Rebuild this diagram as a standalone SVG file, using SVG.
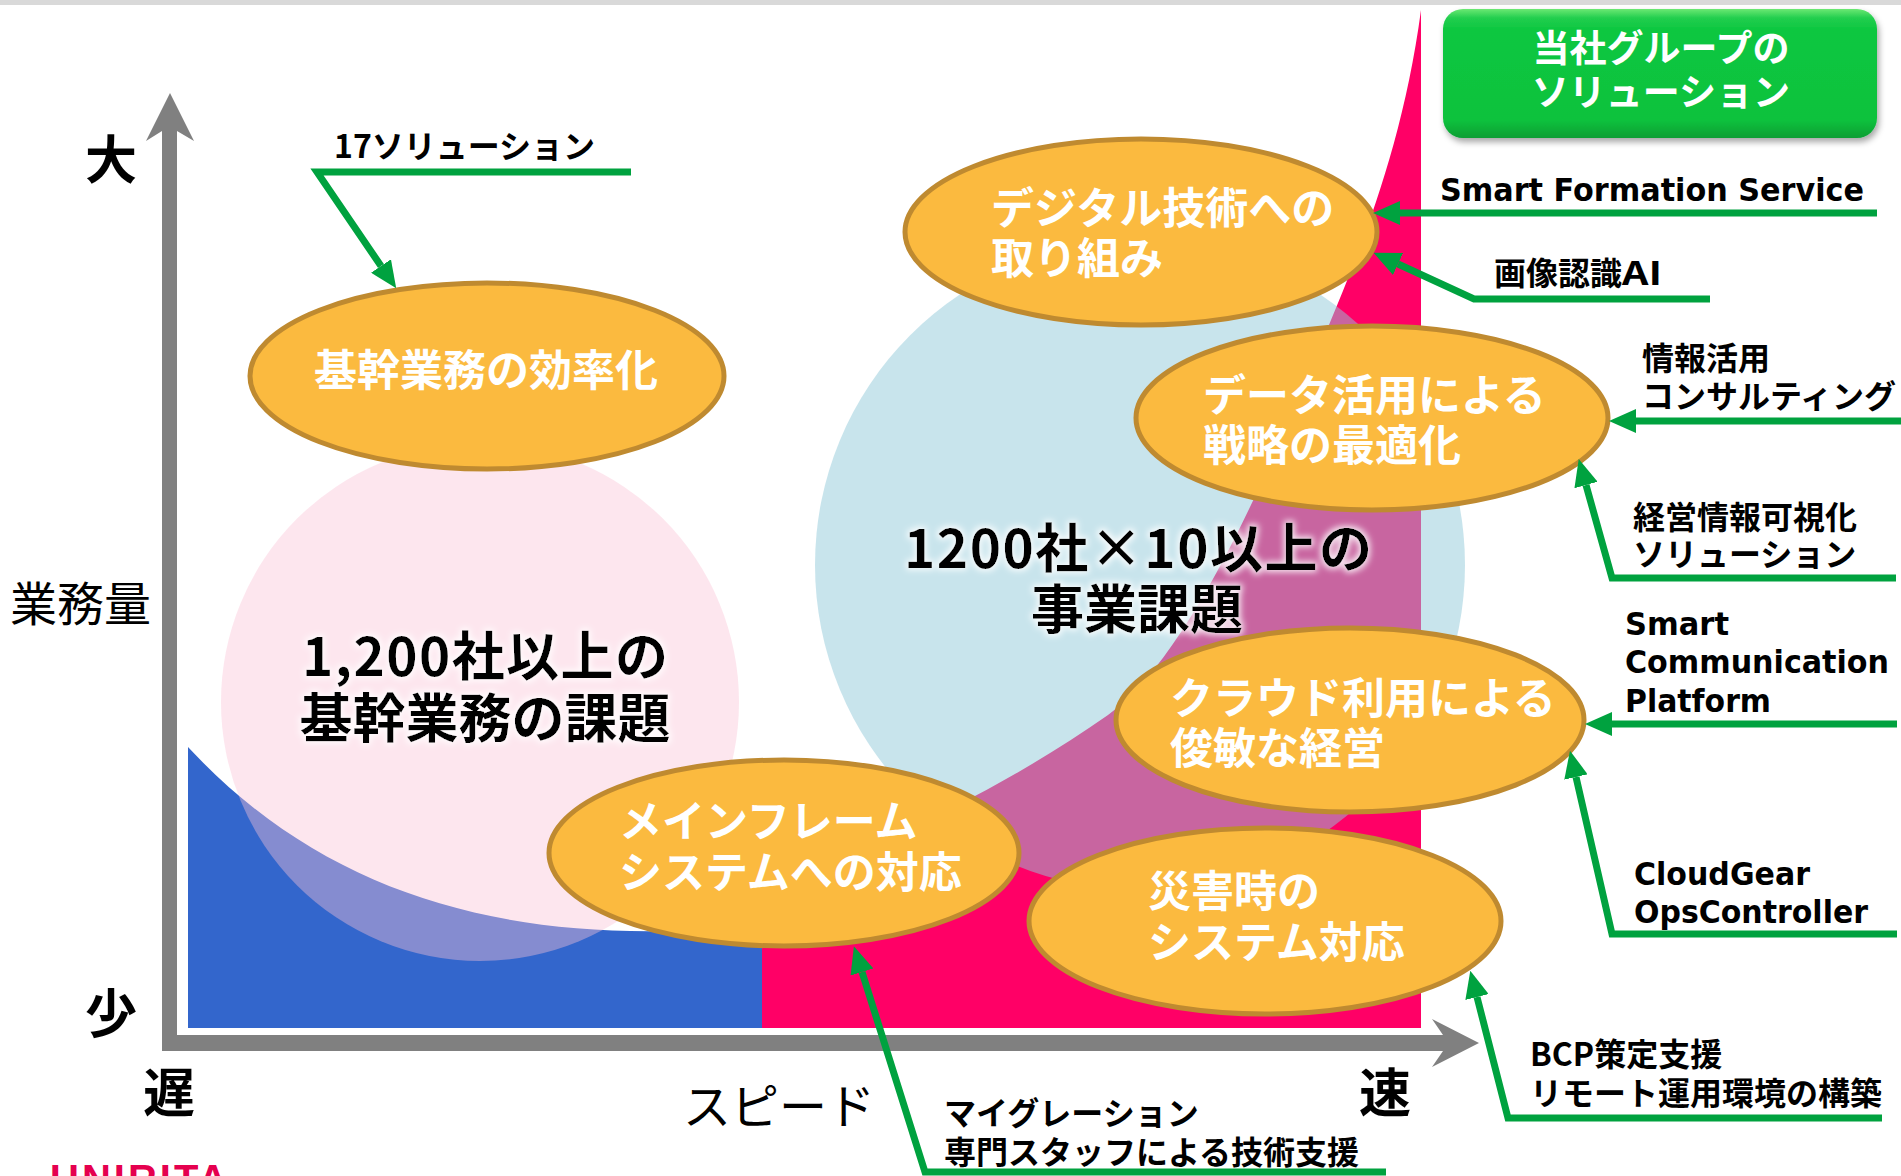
<svg xmlns="http://www.w3.org/2000/svg" width="1901" height="1176" viewBox="0 0 1901 1176">
<defs>
<style>
.et{font-family:"Noto Sans CJK JP",sans-serif;font-weight:700;font-size:43px;fill:#fff}
.big{font-family:"Noto Sans CJK JP",sans-serif;font-weight:700;font-size:53px;fill:#000;text-anchor:middle}
.ax{font-family:"Noto Sans CJK JP",sans-serif;font-weight:700;font-size:52px;fill:#000}
.axr{font-family:"Noto Sans CJK JP",sans-serif;font-weight:400;font-size:47px;fill:#000}
.lb{font-family:"Noto Sans CJK JP",sans-serif;font-weight:700;font-size:32px;fill:#000}
.ll{font-family:"DejaVu Sans","Liberation Sans",sans-serif;font-weight:700;font-size:32px;fill:#000}
.gb{font-family:"Noto Sans CJK JP",sans-serif;font-weight:700;font-size:37px;fill:#fff;text-anchor:middle}
.node{fill:#FBBA3F;stroke:#BF8A30;stroke-width:5}
.conn{fill:none;stroke:#00A23F;stroke-width:7;stroke-linejoin:miter;marker-end:url(#ah)}
</style>
<marker id="ah" markerUnits="userSpaceOnUse" markerWidth="27" markerHeight="24" viewBox="0 0 27 24" refX="0" refY="12" orient="auto">
<path d="M0,0 L27,12 L0,24 z" fill="#00A23F"/>
</marker>
<linearGradient id="gg" x1="0" y1="0" x2="0" y2="1">
<stop offset="0" stop-color="#6BE873"/>
<stop offset="0.07" stop-color="#22CE4E"/>
<stop offset="0.16" stop-color="#0CC740"/>
<stop offset="0.86" stop-color="#0AC23D"/>
<stop offset="1" stop-color="#079E33"/>
</linearGradient>
<filter id="sh" x="-5%" y="-10%" width="112%" height="130%">
<feDropShadow dx="2" dy="4" stdDeviation="3" flood-color="#000" flood-opacity="0.35"/>
</filter>
<filter id="glow" x="-10%" y="-40%" width="120%" height="180%">
<feMorphology in="SourceAlpha" operator="dilate" radius="2" result="d"/>
<feGaussianBlur in="d" stdDeviation="3" result="b"/>
<feFlood flood-color="#ffffff" flood-opacity="0.85"/>
<feComposite in2="b" operator="in" result="g"/>
<feMerge><feMergeNode in="g"/><feMergeNode in="SourceGraphic"/></feMerge>
</filter>
</defs>

<rect x="0" y="0" width="1901" height="1176" fill="#fff"/>
<rect x="0" y="0" width="1901" height="5" fill="#D9D9D9"/>

<g id="areas">
<path d="M761,1028 L761,880 C880,850 1000,790 1108,715 C1200,650 1290,420 1338,303 C1370,225 1405,130 1421,10 L1421,1028 Z" fill="#FF0066"/>
<path d="M188,747 C330,900 520,950 762,925 L762,1028 L188,1028 Z" fill="#3366CC"/>
<circle cx="480" cy="702" r="259" fill="rgb(250,194,213)" fill-opacity="0.41"/>
<circle cx="1140" cy="565" r="325" fill="rgb(145,201,217)" fill-opacity="0.5"/>
</g>

<g id="axes">
<path d="M170,93 L194,141 L177,131 L177,1035 L1443,1035 L1432,1019 L1479,1043 L1432,1067 L1443,1051 L162,1051 L162,131 L146,141 Z" fill="#808080"/>
<text class="ax" x="85" y="179">大</text>
<text class="ax" x="85" y="1033">少</text>
<text class="ax" x="143" y="1112">遅</text>
<text class="ax" x="1359" y="1112">速</text>
<text class="axr" x="10" y="621">業務量</text>
<text class="axr" x="683" y="1124" style="font-size:48px">スピード</text>
</g>

<g id="issues">
<text class="big" filter="url(#glow)" x="485" y="676" textLength="366" lengthAdjust="spacing">1,200社以上の</text>
<text class="big" filter="url(#glow)" x="485" y="738">基幹業務の課題</text>
<text class="big" filter="url(#glow)" x="1138" y="568" textLength="468" lengthAdjust="spacing">1200社×10以上の</text>
<text class="big" filter="url(#glow)" x="1137" y="629">事業課題</text>
</g>

<g id="node-kikan">
<ellipse class="node" cx="487" cy="376" rx="237" ry="93"/>
<text class="et" x="314" y="386">基幹業務の効率化</text>
</g>
<g id="node-digital">
<ellipse class="node" cx="1141" cy="232" rx="236" ry="93"/>
<text class="et" x="991" y="224">デジタル技術への</text>
<text class="et" x="991" y="274">取り組み</text>
</g>
<g id="node-data">
<ellipse class="node" cx="1372" cy="418" rx="236" ry="92"/>
<text class="et" x="1203" y="411">データ活用による</text>
<text class="et" x="1203" y="461">戦略の最適化</text>
</g>
<g id="node-cloud">
<ellipse class="node" cx="1350" cy="720" rx="234" ry="92"/>
<text class="et" x="1170" y="714">クラウド利用による</text>
<text class="et" x="1170" y="764">俊敏な経営</text>
</g>
<g id="node-mainframe">
<ellipse class="node" cx="784" cy="853" rx="235" ry="93"/>
<text class="et" x="619" y="837">メインフレーム</text>
<text class="et" x="619" y="888">システムへの対応</text>
</g>
<g id="node-disaster">
<ellipse class="node" cx="1265" cy="921" rx="236" ry="93"/>
<text class="et" x="1148" y="907">災害時の</text>
<text class="et" x="1148" y="958">システム対応</text>
</g>

<g id="node-solutions">
<rect x="1443" y="9" width="434" height="129" rx="20" ry="20" fill="url(#gg)" filter="url(#sh)"/>
<text class="gb" x="1661" y="62">当社グループの</text>
<text class="gb" x="1661" y="106">ソリューション</text>
</g>

<g id="connectors">
<path class="conn" d="M631,172 L317,172 L381,266"/>
<path class="conn" d="M1877,213 L1400,213"/>
<path class="conn" d="M1710,299 L1474,299 L1398,264"/>
<path class="conn" d="M1901,421 L1636,421"/>
<path class="conn" d="M1896,578 L1612,578 L1586,485"/>
<path class="conn" d="M1897,724 L1612,724"/>
<path class="conn" d="M1897,934 L1612,934 L1576,777"/>
<path class="conn" d="M1882,1118 L1508,1118 L1477,997"/>
<path class="conn" d="M1386,1172 L925,1172 L862,972"/>
</g>

<g id="labels">
<text class="lb" x="334" y="158">17ソリューション</text>
<text class="ll" x="1440" y="201" textLength="424" lengthAdjust="spacingAndGlyphs">Smart Formation Service</text>
<text class="lb" x="1494" y="285">画像認識<tspan textLength="40" lengthAdjust="spacingAndGlyphs">AI</tspan></text>
<text class="lb" x="1642" y="370">情報活用</text>
<text class="lb" x="1642" y="408">コンサルティング</text>
<text class="lb" x="1633" y="529">経営情報可視化</text>
<text class="lb" x="1633" y="566">ソリューション</text>
<text class="ll" x="1625" y="635" textLength="104" lengthAdjust="spacingAndGlyphs">Smart</text>
<text class="ll" x="1625" y="673" textLength="264" lengthAdjust="spacingAndGlyphs">Communication</text>
<text class="ll" x="1625" y="712" textLength="146" lengthAdjust="spacingAndGlyphs">Platform</text>
<text class="ll" x="1634" y="885" textLength="176" lengthAdjust="spacingAndGlyphs">CloudGear</text>
<text class="ll" x="1634" y="923" textLength="234" lengthAdjust="spacingAndGlyphs">OpsController</text>
<text class="lb" x="1530" y="1066">BCP策定支援</text>
<text class="lb" x="1530" y="1105">リモート運用環境の構築</text>
<text class="lb" x="944" y="1125">マイグレーション</text>
<text class="lb" x="944" y="1164">専門スタッフによる技術支援</text>
</g>

<text x="50" y="1193" style="font-family:'Liberation Sans',sans-serif;font-weight:700;font-size:40px;fill:#E5004F;letter-spacing:3px">UNIRITA</text>
</svg>
